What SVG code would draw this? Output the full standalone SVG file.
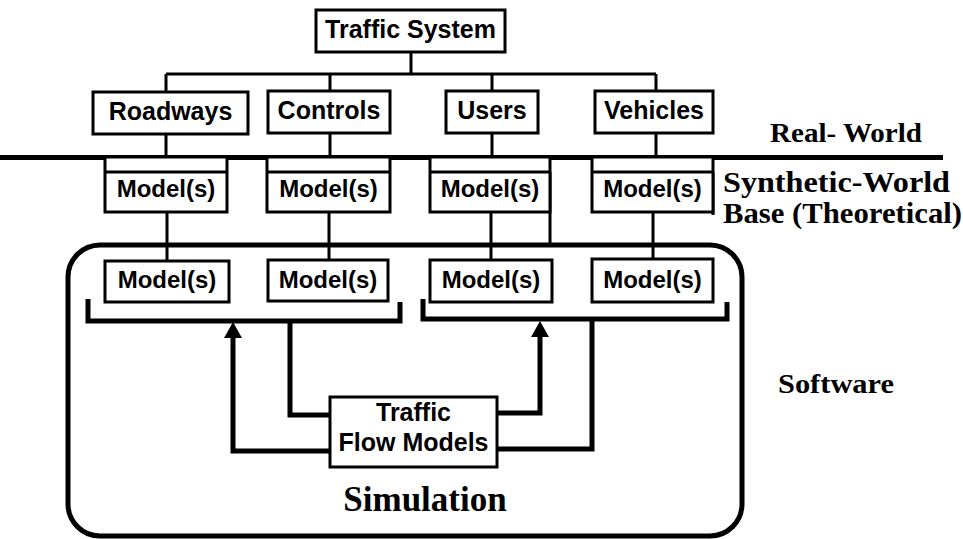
<svg xmlns="http://www.w3.org/2000/svg" width="963" height="539" viewBox="0 0 963 539">
<style>
.box{fill:#fff;stroke:#000;stroke-width:3}
.lbl{font-family:"Liberation Sans",Arial,sans-serif;font-weight:bold;font-size:25px;fill:#000;text-anchor:middle}
.mdl{font-size:24px}
.ser{font-family:"Liberation Serif","Times New Roman",serif;font-weight:bold;fill:#000}
.thin{fill:none;stroke:#000;stroke-width:3}
.thick{fill:none;stroke:#000;stroke-width:5}
</style>
<defs>
<marker id="ah" viewBox="0 0 16 18" refX="0" refY="9" markerWidth="16" markerHeight="18" markerUnits="userSpaceOnUse" orient="auto">
<path d="M0,0 L16,9 L0,18 z" fill="#000"/>
</marker>
</defs>
<rect width="963" height="539" fill="#fff"/>

<g id="simulation">
<rect x="68" y="245" width="674" height="291" rx="32" ry="32" fill="none" stroke="#000" stroke-width="5"/>
<text class="ser" x="425" y="511" font-size="35" text-anchor="middle">Simulation</text>
</g>

<g id="connectors">
<path class="thin" d="M411,52 V74 M166,74 H656 M166,74 V91 M330,74 V91 M492,74 V91 M656,74 V91"/>
<path class="thin" d="M166,134 V155 M330,134 V155 M492,133 V155 M656,133 V155"/>
<line x1="0" y1="157.5" x2="943" y2="157.5" stroke="#000" stroke-width="5"/>
<path class="thin" d="M167,212 V260 M329,212 V260 M491,212 V260 M653,212 V259"/>
<path class="thin" d="M550,172 V245 M713,172 V215"/>
<path class="thick" d="M88,299 V321 H400 V302"/>
<path class="thick" d="M423,299 V319 H727 V302"/>
<path class="thick" d="M290,321 V415 H330"/>
<path class="thick" d="M497,449 H592 V319"/>
<path class="thick" d="M330,451 H233 V338" marker-end="url(#ah)"/>
<path class="thick" d="M497,413 H540 V337" marker-end="url(#ah)"/>
</g>

<g id="traffic-system">
<rect class="box" x="316" y="10" width="189" height="42"/>
<text class="lbl" x="410.5" y="38">Traffic System</text>
</g>
<g id="roadways">
<rect class="box" x="93" y="92" width="155" height="42"/>
<text class="lbl" x="170.5" y="120">Roadways</text>
</g>
<g id="controls">
<rect class="box" x="268" y="91" width="122" height="42"/>
<text class="lbl" x="329" y="119">Controls</text>
</g>
<g id="users">
<rect class="box" x="446" y="91" width="92" height="42"/>
<text class="lbl" x="492" y="119">Users</text>
</g>
<g id="vehicles">
<rect class="box" x="595" y="91" width="118" height="42"/>
<text class="lbl" x="654" y="119">Vehicles</text>
</g>

<g id="model-roadways">
<rect class="box" x="105" y="157" width="122" height="55"/>
<line class="thin" x1="105" y1="172" x2="227" y2="172"/>
<text class="lbl mdl" x="166" y="197">Model(s)</text>
</g>
<g id="model-controls">
<rect class="box" x="267" y="157" width="123" height="55"/>
<line class="thin" x1="267" y1="172" x2="390" y2="172"/>
<text class="lbl mdl" x="328.5" y="197">Model(s)</text>
</g>
<g id="model-users">
<rect class="box" x="430" y="157" width="120" height="55"/>
<line class="thin" x1="430" y1="172" x2="550" y2="172"/>
<text class="lbl mdl" x="490" y="197">Model(s)</text>
</g>
<g id="model-vehicles">
<rect class="box" x="592" y="157" width="121" height="55"/>
<line class="thin" x1="592" y1="172" x2="713" y2="172"/>
<text class="lbl mdl" x="652.5" y="197">Model(s)</text>
</g>

<g id="sim-model-roadways">
<rect class="box" x="105" y="261" width="124" height="41"/>
<text class="lbl mdl" x="167" y="288">Model(s)</text>
</g>
<g id="sim-model-controls">
<rect class="box" x="268" y="260" width="120" height="41"/>
<text class="lbl mdl" x="328" y="288">Model(s)</text>
</g>
<g id="sim-model-users">
<rect class="box" x="430" y="260" width="122" height="42"/>
<text class="lbl mdl" x="491" y="288">Model(s)</text>
</g>
<g id="sim-model-vehicles">
<rect class="box" x="592" y="259" width="121" height="43"/>
<text class="lbl mdl" x="652.5" y="288">Model(s)</text>
</g>

<g id="traffic-flow-models">
<rect class="box" x="330" y="397" width="167" height="70"/>
<text class="lbl" x="413.5" y="421">Traffic</text>
<text class="lbl" x="413.5" y="451">Flow Models</text>
</g>

<g id="labels">
<text class="ser" x="770" y="142" font-size="28" textLength="152" lengthAdjust="spacingAndGlyphs">Real- World</text>
<text class="ser" x="723" y="192" font-size="29" textLength="227" lengthAdjust="spacingAndGlyphs">Synthetic-World</text>
<text class="ser" x="723" y="223" font-size="29" textLength="239" lengthAdjust="spacingAndGlyphs">Base (Theoretical)</text>
<text class="ser" x="778" y="393" font-size="28" textLength="116" lengthAdjust="spacingAndGlyphs">Software</text>
</g>
</svg>
